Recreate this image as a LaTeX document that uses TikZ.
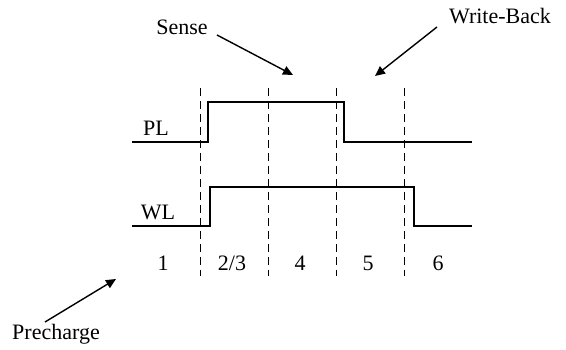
\documentclass[tikz,border=0pt]{standalone}
\usepackage{fontspec}
\setmainfont{Liberation Serif}
\usetikzlibrary{arrows.meta}
\begin{document}
\begin{tikzpicture}[x=1pt,y=-1pt,
  lbl/.style={font=\fontsize{22}{26}\selectfont, inner sep=0pt},
  sig/.style={line width=2pt, line join=miter},
  divider/.style={line width=0.9pt, dash pattern=on 8pt off 5pt},
  pointer/.style={line width=1.4pt, -{Triangle[length=10pt,width=9pt]}}]
\useasboundingbox (0,0) rectangle (566,350);
% dashed dividers
\foreach \n/\x in {d1/200,d2/268,d3/336,d4/404}{
  \coordinate (\n t) at (\x,88);
  \coordinate (\n b) at (\x,276);
  \draw[divider] (\n t) -- (\n b);
}
% PL signal
\coordinate (p0) at (132,142);
\coordinate (p1) at (208,142);
\coordinate (p2) at (208,102);
\coordinate (p3) at (344,102);
\coordinate (p4) at (344,142);
\coordinate (p5) at (472,142);
\draw[sig] (p0) -- (p1) -- (p2) -- (p3) -- (p4) -- (p5);
% WL signal
\coordinate (w0) at (132,226);
\coordinate (w1) at (210,226);
\coordinate (w2) at (210,187);
\coordinate (w3) at (414,187);
\coordinate (w4) at (414,226);
\coordinate (w5) at (472,226);
\draw[sig] (w0) -- (w1) -- (w2) -- (w3) -- (w4) -- (w5);
% labels
\node[lbl] (pl) at (156,128) {PL};
\node[lbl] (wl) at (158,212) {WL};
\node[lbl] (n1) at (163,263) {1};
\node[lbl] (n23) at (232,263) {2/3};
\node[lbl] (n4) at (300,263) {4};
\node[lbl] (n5) at (368,263) {5};
\node[lbl] (n6) at (438,263) {6};
\node[lbl] (sense) at (182,27) {Sense};
\node[lbl] (wb) at (500,16) {Write-Back};
\node[lbl] (pre) at (56,334) {Precharge};
% arrows
\coordinate (st) at (293,75);
\coordinate (wt) at (375,76);
\coordinate (pt) at (116,279);
\draw[pointer] (217,35) -- (st);
\draw[pointer] (437,27) -- (wt);
\draw[pointer] (45,322) -- (pt);
\end{tikzpicture}
\end{document}
